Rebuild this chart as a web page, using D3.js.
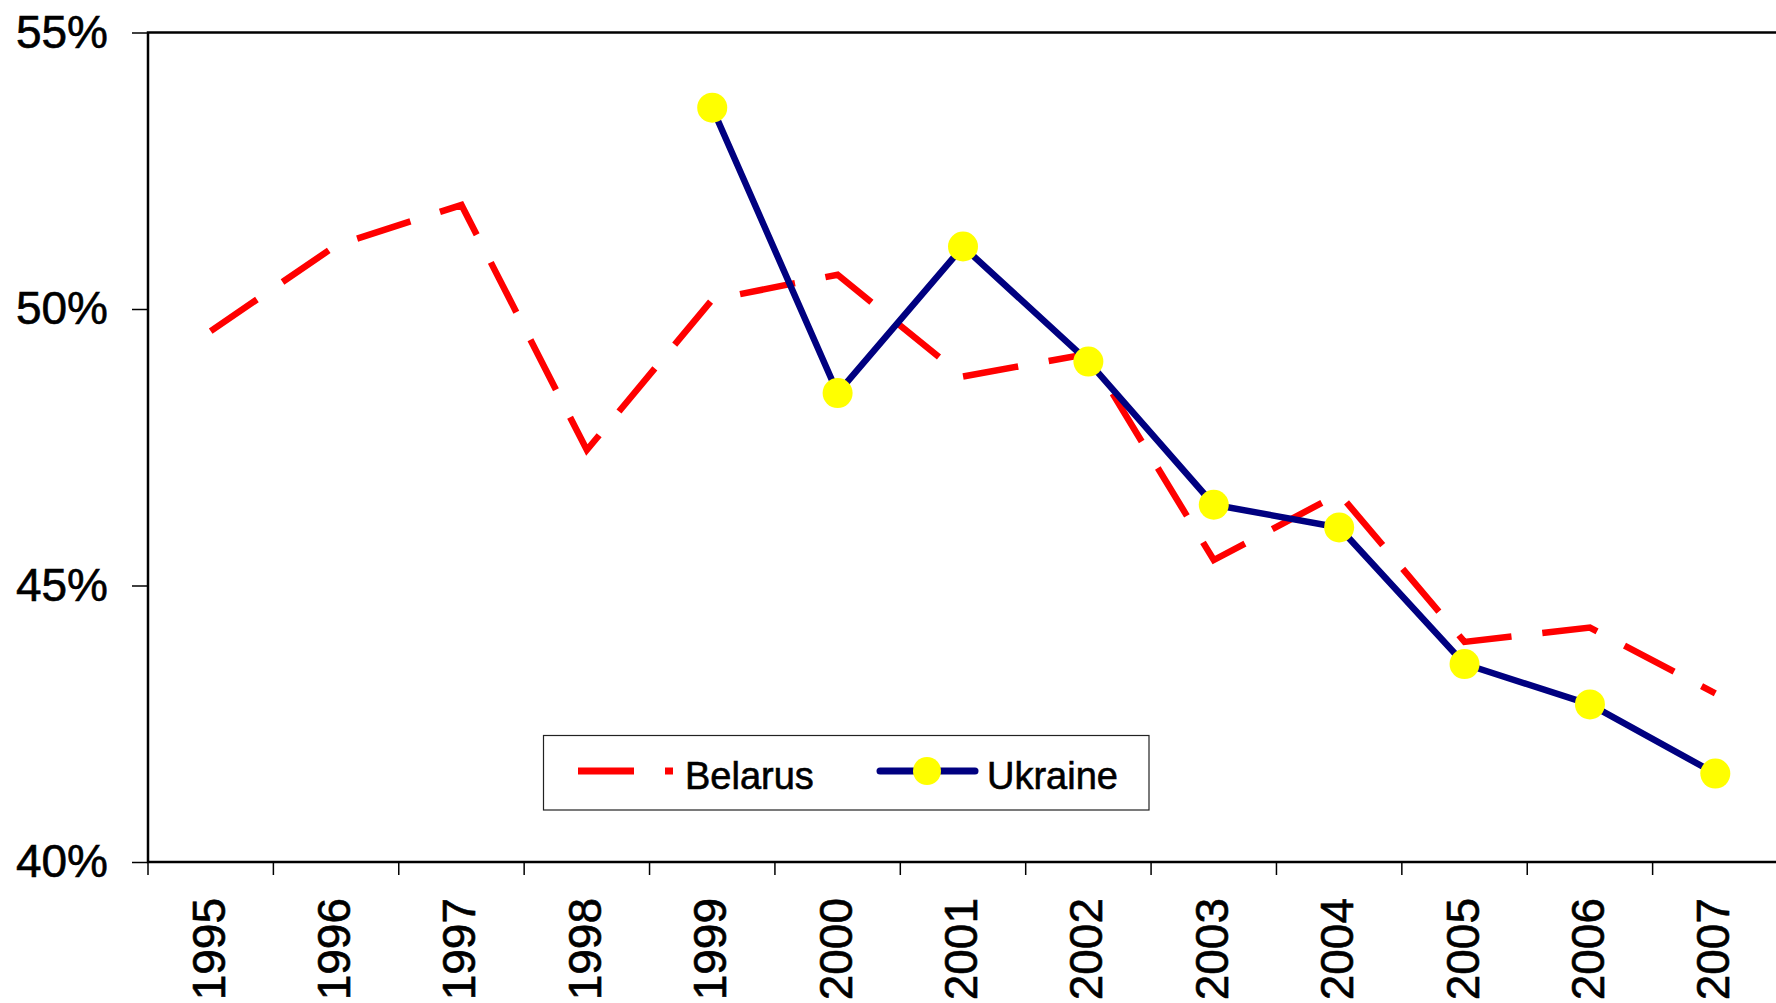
<!DOCTYPE html>
<html>
<head>
<meta charset="utf-8">
<script src="https://cdn.jsdelivr.net/npm/d3@7"></script>
<style>
  html, body { margin: 0; padding: 0; background: #fff; }
  svg { display: block; font-family: "Liberation Sans", Arial, sans-serif; }
  text { stroke: #000; stroke-width: 0.6px; }
</style>
</head>
<body>
<div id="chart"></div>
<script>
// categories and series
const years = ['1995', '1996', '1997', '1998', '1999', '2000', '2001', '2002', '2003', '2004', '2005', '2006', '2007'];
const belarus = [49.6, 51.15, 51.88, 47.45, 50.17, 50.62, 48.78, 49.19, 45.46, 46.66, 43.98, 44.24, 43.05];
const ukraine = [null, null, null, null, 53.64, 48.48, 51.13, 49.05, 46.46, 46.05, 43.58, 42.85, 41.6];
const yTicks = [40, 45, 50, 55];
const seriesNames = ['Belarus', 'Ukraine'];

const width = 1776, height = 1003;
const plotLeft = 148, plotRight = 1778, plotTop = 32.5, plotBottom = 862;

const svg = d3.select('#chart').append('svg')
    .attr('width', width)
    .attr('height', height);

const x = d3.scaleBand().domain(years).range([plotLeft, plotRight]).padding(0);
const y = d3.scaleLinear().domain([40, 55]).range([plotBottom, plotTop]);
const cx = d => x(d) + x.bandwidth() / 2;

// plot frame (right edge falls outside the window)
svg.append('rect')
    .attr('x', plotLeft).attr('y', plotTop)
    .attr('width', plotRight - plotLeft).attr('height', plotBottom - plotTop)
    .attr('fill', 'none')
    .attr('stroke', '#000')
    .attr('stroke-width', 2.5);

// y axis
const yAxis = svg.append('g').attr('transform', `translate(${plotLeft},0)`)
    .call(d3.axisLeft(y).tickValues(yTicks).tickSize(16).tickPadding(24).tickFormat(d => d + '%'));
yAxis.select('.domain').remove();
yAxis.selectAll('line').attr('stroke', '#000').attr('stroke-width', 1.5);
yAxis.selectAll('text')
    .attr('font-size', 46)
    .attr('fill', '#000')
    .attr('font-family', '"Liberation Sans", Arial, sans-serif');

// x axis: ticks at band boundaries
const bounds = d3.range(years.length + 1).map(i => plotLeft + i * x.bandwidth());
svg.append('g').selectAll('line')
    .data(bounds)
    .join('line')
    .attr('x1', d => d).attr('x2', d => d)
    .attr('y1', plotBottom).attr('y2', plotBottom + 13)
    .attr('stroke', '#000')
    .attr('stroke-width', 1.5);

svg.append('g').selectAll('text')
    .data(years)
    .join('text')
    .attr('transform', d => `translate(${cx(d) + 14},898) rotate(-90)`)
    .attr('text-anchor', 'end')
    .attr('font-size', 46)
    .attr('fill', '#000')
    .text(d => d);

// lines
const line = d3.line()
    .defined(d => d.v != null)
    .x(d => cx(d.year))
    .y(d => y(d.v));

const belData = years.map((yr, i) => ({ year: yr, v: belarus[i] }));
const ukrData = years.map((yr, i) => ({ year: yr, v: ukraine[i] }));

svg.append('path')
    .datum(belData)
    .attr('d', line)
    .attr('fill', 'none')
    .attr('stroke', '#ff0000')
    .attr('stroke-width', 6.5)
    .attr('stroke-dasharray', '56,31')
    .attr('stroke-linejoin', 'miter');

svg.append('path')
    .datum(ukrData)
    .attr('d', line)
    .attr('fill', 'none')
    .attr('stroke', '#000080')
    .attr('stroke-width', 6.5)
    .attr('stroke-linejoin', 'round')
    .attr('stroke-linecap', 'round');

svg.append('g').selectAll('circle')
    .data(ukrData.filter(d => d.v != null))
    .join('circle')
    .attr('cx', d => cx(d.year))
    .attr('cy', d => y(d.v))
    .attr('r', 15)
    .attr('fill', '#ffff00');

// legend
const legend = svg.append('g');
legend.append('rect')
    .attr('x', 543.5).attr('y', 735.5)
    .attr('width', 605.5).attr('height', 74.5)
    .attr('fill', '#fff')
    .attr('stroke', '#222')
    .attr('stroke-width', 1.2);

legend.append('line')
    .attr('x1', 578).attr('x2', 673)
    .attr('y1', 771).attr('y2', 771)
    .attr('stroke', '#ff0000')
    .attr('stroke-width', 7)
    .attr('stroke-dasharray', '56,31');
legend.append('text')
    .attr('x', 685).attr('y', 789)
    .attr('font-size', 38)
    .attr('fill', '#000')
    .text(seriesNames[0]);

legend.append('line')
    .attr('x1', 880).attr('x2', 975)
    .attr('y1', 771).attr('y2', 771)
    .attr('stroke', '#000080')
    .attr('stroke-width', 7)
    .attr('stroke-linecap', 'round');
legend.append('circle')
    .attr('cx', 927).attr('cy', 771)
    .attr('r', 14)
    .attr('fill', '#ffff00');
legend.append('text')
    .attr('x', 987).attr('y', 789)
    .attr('font-size', 38)
    .attr('fill', '#000')
    .text(seriesNames[1]);
</script>
</body>
</html>
